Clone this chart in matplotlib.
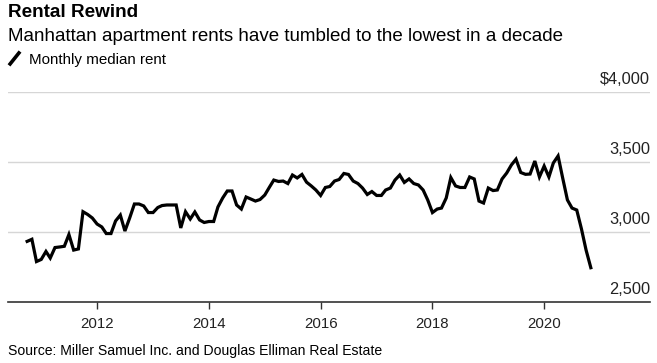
"""
Manhattan monthly median rent, Oct 2010 - Nov 2020.
"""

import pandas as pd
import matplotlib
matplotlib.use("Agg")
import matplotlib.pyplot as plt
import matplotlib.dates as mdates
from matplotlib.lines import Line2D
from matplotlib.transforms import blended_transform_factory, offset_copy

plt.rcParams["font.family"] = ["Liberation Sans", "DejaVu Sans"]

# --- data ---
start_month = "2010-10-01"
median_rent = [
    2933, 2948, 2789, 2804, 2861, 2814, 2889, 2893, 2898, 2982, 2871, 2879,
    3145, 3125, 3100, 3057, 3036, 2989, 2989, 3079, 3121, 3007, 3100, 3200,
    3200, 3186, 3139, 3139, 3175, 3189, 3193, 3193, 3193, 3029, 3145, 3093,
    3143, 3086, 3068, 3075, 3075, 3179, 3243, 3293, 3293, 3193, 3164, 3250,
    3236, 3221, 3232, 3264, 3321, 3371, 3361, 3364, 3346, 3407, 3386, 3411,
    3356, 3329, 3300, 3261, 3318, 3325, 3364, 3375, 3418, 3411, 3364, 3346,
    3314, 3268, 3289, 3261, 3261, 3300, 3314, 3371, 3407, 3354, 3379, 3346,
    3336, 3300, 3229, 3139, 3164, 3171, 3243, 3389, 3329, 3318, 3318, 3393,
    3379, 3221, 3207, 3314, 3296, 3300, 3379, 3421, 3479, 3520, 3425, 3412,
    3414, 3507, 3393, 3471, 3393, 3493, 3543, 3386, 3229, 3171, 3157, 3021,
    2871, 2745,
]
y_ticks = [2500, 3000, 3500, 4000]
y_tick_labels = ["2,500", "3,000", "3,500", "$4,000"]
x_tick_years = [2012, 2014, 2016, 2018, 2020]

months = pd.date_range(start_month, periods=len(median_rent), freq="MS")

# --- plotting ---
fig = plt.figure(figsize=(6.57, 3.63), dpi=100)
ax = fig.add_axes([0.0122, 0.168, 0.9772, 0.5786])

ax.plot(months, median_rent, color="black", lw=2.3, solid_joinstyle="miter",
        zorder=3)

ax.set_ylim(2500, 4000)
ax.set_xlim(pd.Timestamp("2010-05-29"), pd.Timestamp("2021-11-23"))

# grid lines + labels sitting above them on the right
ax.set_yticks(y_ticks)
ax.tick_params(axis="y", length=0, labelleft=False, labelright=False)
for val in y_ticks[1:]:
    ax.axhline(val, color="#d6d6d6", lw=1.0, zorder=1)
trans = blended_transform_factory(ax.transAxes, ax.transData)
trans = offset_copy(trans, fig=fig, x=0, y=5.8, units="points")
for val, lab in zip(y_ticks, y_tick_labels):
    ax.text(1.0, val, lab, transform=trans, ha="right", va="baseline",
            fontsize=11.8, color="#222222")

ax.set_xticks([pd.Timestamp(f"{y}-01-01") for y in x_tick_years])
ax.xaxis.set_major_formatter(mdates.DateFormatter("%Y"))
ax.tick_params(axis="x", length=5, width=1, color="#333333", pad=6,
               labelsize=10.8, labelcolor="#222222")

for side in ["top", "left", "right"]:
    ax.spines[side].set_visible(False)
ax.spines["bottom"].set_color("#333333")
ax.spines["bottom"].set_linewidth(1.2)

# --- header / footer ---
fig.text(0.012, 0.953, "Rental Rewind", fontsize=13.6, fontweight="bold",
         va="baseline")
fig.text(0.012, 0.888, "Manhattan apartment rents have tumbled to the lowest in a decade",
         fontsize=13.5, va="baseline")
fig.add_artist(Line2D([0.0137, 0.0305], [0.82, 0.858], transform=fig.transFigure,
                      color="black", lw=2.6, solid_capstyle="butt"))
fig.text(0.044, 0.824, "Monthly median rent", fontsize=10.9, va="baseline")
fig.text(0.012, 0.022, "Source: Miller Samuel Inc. and Douglas Elliman Real Estate",
         fontsize=10.1, va="baseline")

fig.savefig("out.png", dpi=100)
